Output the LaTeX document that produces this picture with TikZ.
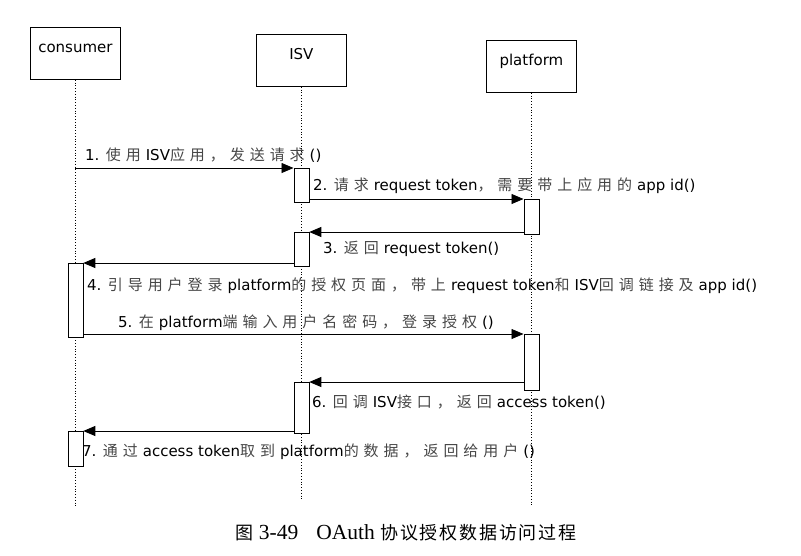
\documentclass[tikz,border=0pt]{standalone}
\usepackage{fontspec}
\setmainfont{DejaVu Sans}
\newfontfamily\cjk[LetterSpace=33]{Noto Sans CJK SC}
\newfontfamily\cjkcap[LetterSpace=10]{Noto Sans CJK SC}
\newfontfamily\capserif{Liberation Serif}
\usepackage{tikz}
\usetikzlibrary{arrows.meta,positioning}
\usepackage{xcolor}
\definecolor{zhgray}{RGB}{70,70,70}
\newcommand{\zh}[1]{{\cjk\fontsize{15}{18}\selectfont\color{zhgray}#1\hspace{5pt}}}
\newcommand{\zhcap}[1]{{\cjkcap\fontsize{18}{22}\selectfont #1}}
\tikzstyle{head} = [draw, line width=0.8pt, minimum width=90pt, inner sep=0pt, text height=25pt, text depth=27pt, font=\fontsize{15}{18}\selectfont]
\tikzstyle{act} = [draw, fill=white, line width=0.8pt, minimum width=15pt, inner sep=0pt, anchor=north]
\tikzstyle{life} = [line width=0.8pt, dotted]
\tikzstyle{msg} = [line width=0.8pt, -{Triangle[length=12pt,width=10pt]}]
\tikzstyle{lbl} = [anchor=base west, inner sep=0pt, font=\fontsize{15}{18}\selectfont]

\begin{document}
\begin{tikzpicture}[x=1pt,y=-1pt]
\useasboundingbox (0,0) rectangle (801,555);

% Lifeline heads
\node[head, anchor=north west] (cons) at (30,27) {consumer};
\node[head, anchor=north west] (isv) at (256,34) {ISV};
\node[head, anchor=north west] (plat) at (486,40) {platform};

% Lifelines
\coordinate (consEnd) at (cons.south |- 0,507);
\coordinate (isvEnd) at (isv.south |- 0,500);
\coordinate (platEnd) at (plat.south |- 0,505);
\draw[life] (cons.south) -- (consEnd);
\draw[life] (isv.south) -- (isvEnd);
\draw[life] (plat.south) -- (platEnd);

% Activations
\node[act, minimum height=34pt] (isvA1) at (isv.south |- 0,168) {};
\node[act, minimum height=35pt] (platA1) at (plat.south |- 0,199) {};
\node[act, minimum height=34pt] (isvA2) at (isv.south |- 0,232) {};
\node[act, minimum height=74pt] (consA1) at (cons.south |- 0,263) {};
\node[act, minimum height=56pt] (platA2) at (plat.south |- 0,334) {};
\node[act, minimum height=51pt] (isvA3) at (isv.south |- 0,382) {};
\node[act, minimum height=35pt] (consA2) at (cons.south |- 0,431) {};

% Messages
\draw[msg] (cons.south |- isvA1.north) -- (isvA1.north west);
\draw[msg] (isvA1.east |- platA1.north) -- (platA1.north west);
\draw[msg] (platA1.west |- isvA2.north) -- (isvA2.north east);
\draw[msg] (isvA2.west |- consA1.north) -- (consA1.north east);
\draw[msg] (consA1.east |- platA2.north) -- (platA2.north west);
\draw[msg] (platA2.west |- isvA3.north) -- (isvA3.north east);
\draw[msg] (isvA3.west |- consA2.north) -- (consA2.north east);

% Message labels
\node[lbl] (m1) at (85,160) {1. \zh{使用}ISV\zh{应用，发送请求}()};
\node[lbl] (m2) at (313,190) {2. \zh{请求}request token\zh{，需要带上应用的}app id()};
\node[lbl] (m3) at (323,253) {3. \zh{返回}request token()};
\node[lbl] (m4) at (87,290) {4. \zh{引导用户登录}platform\zh{的授权页面，带上}request token\zh{和}ISV\zh{回调链接及}app id()};
\node[lbl] (m5) at (118,327) {5. \zh{在}platform\zh{端输入用户名密码，登录授权}()};
\node[lbl] (m6) at (312,407) {6. \zh{回调}ISV\zh{接口，返回}access token()};
\node[lbl] (m7) at (82,456) {7. \zh{通过}access token\zh{取到}platform\zh{的数据，返回给用户}()};

% Caption
\node[anchor=base, inner sep=0pt, font=\capserif\fontsize{21.5}{24}\selectfont] (cap) at (406,539) {\zhcap{图} 3-49\hspace{18pt}OAuth \zhcap{协议授权数据访问过程}};
\end{tikzpicture}
\end{document}
